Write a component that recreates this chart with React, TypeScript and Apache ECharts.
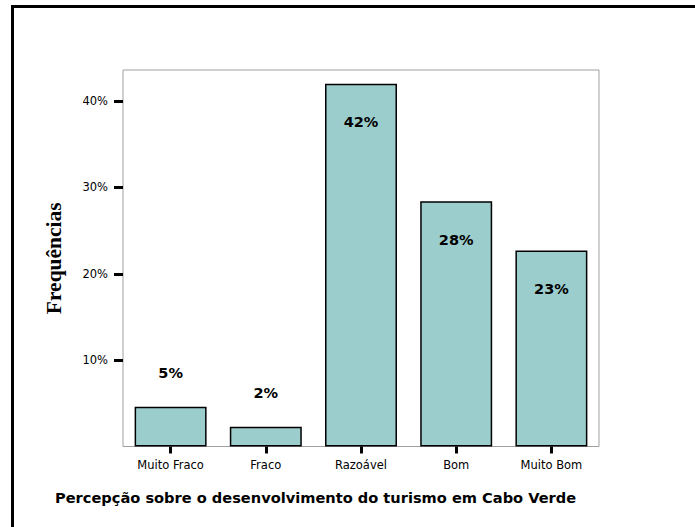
import React, { useEffect, useRef } from "react";
import * as echarts from "echarts";

const categories = ["Muito Fraco", "Fraco", "Razoável", "Bom", "Muito Bom"];
const values = [4.6, 2.3, 42.0, 28.4, 22.7];
const valueLabels = ["5%", "2%", "42%", "28%", "23%"];
const yTicks = [10, 20, 30, 40];
const xTitle = "Percepção sobre o desenvolvimento do turismo em Cabo Verde";
const yTitle = "Frequências";

export default function App() {
  const ref = useRef<HTMLDivElement>(null);
  useEffect(() => {
    const chart = echarts.init(ref.current!, null, { renderer: "svg" });
    const sans = "'DejaVu Sans', Arial, sans-serif";
    chart.setOption({
      animation: false,
      backgroundColor: "#ffffff",
      title: {
        text: xTitle,
        left: 50,
        top: 485,
        textStyle: { fontFamily: sans, fontWeight: "bold", fontSize: 14.6, color: "#000" },
      },
      graphic: [
        { type: "line", shape: { x1: 11, y1: 6.5, x2: 695, y2: 6.5 }, style: { stroke: "#000", lineWidth: 3 } },
        { type: "line", shape: { x1: 12.5, y1: 5, x2: 12.5, y2: 527 }, style: { stroke: "#000", lineWidth: 3 } },
      ],
      grid: {
        left: 123,
        top: 70,
        right: 96,
        bottom: 80.5,
        show: true,
        borderColor: "#a0a0a0",
        borderWidth: 1,
        backgroundColor: "#fff",
      },
      xAxis: {
        type: "category",
        data: categories,
        axisLine: { show: false },
        axisTick: { show: true, alignWithLabel: true, length: 7, lineStyle: { color: "#000", width: 3 } },
        axisLabel: { margin: 12, fontFamily: sans, fontSize: 11.5, color: "#000" },
      },
      yAxis: {
        type: "value",
        min: 0,
        max: 43.6,
        interval: 10,
        name: yTitle,
        nameLocation: "middle",
        nameRotate: 90,
        nameGap: 58,
        nameTextStyle: { fontFamily: "'Liberation Serif', 'Times New Roman', serif", fontWeight: "bold", fontSize: 21.5, color: "#000" },
        axisLine: { show: false },
        splitLine: { show: false },
        axisTick: { show: true, length: 9, customValues: yTicks, lineStyle: { color: "#000", width: 3 } },
        axisLabel: {
          margin: 15,
          fontFamily: sans,
          fontSize: 11.5,
          color: "#000",
          customValues: yTicks,
          formatter: (v: number) => v + "%",
        },
      },
      series: [
        {
          type: "bar",
          barWidth: "75.6%",
          data: values.map((v, i) => ({
            value: v,
            label: {
              show: true,
              position: v > 10 ? "insideTop" : "top",
              distance: v > 10 ? 31 : 26,
              formatter: valueLabels[i],
              fontFamily: sans,
              fontWeight: "bold",
              fontSize: 14.5,
              color: "#000",
            },
          })),
          itemStyle: { color: "#9ccdcd", borderColor: "#000", borderWidth: 1.5 },
        },
      ],
    });
    return () => chart.dispose();
  }, []);
  return (
    <div
      ref={ref}
      style={{ position: "fixed", left: 0, top: 0, width: 695, height: 527 }}
    />
  );
}
